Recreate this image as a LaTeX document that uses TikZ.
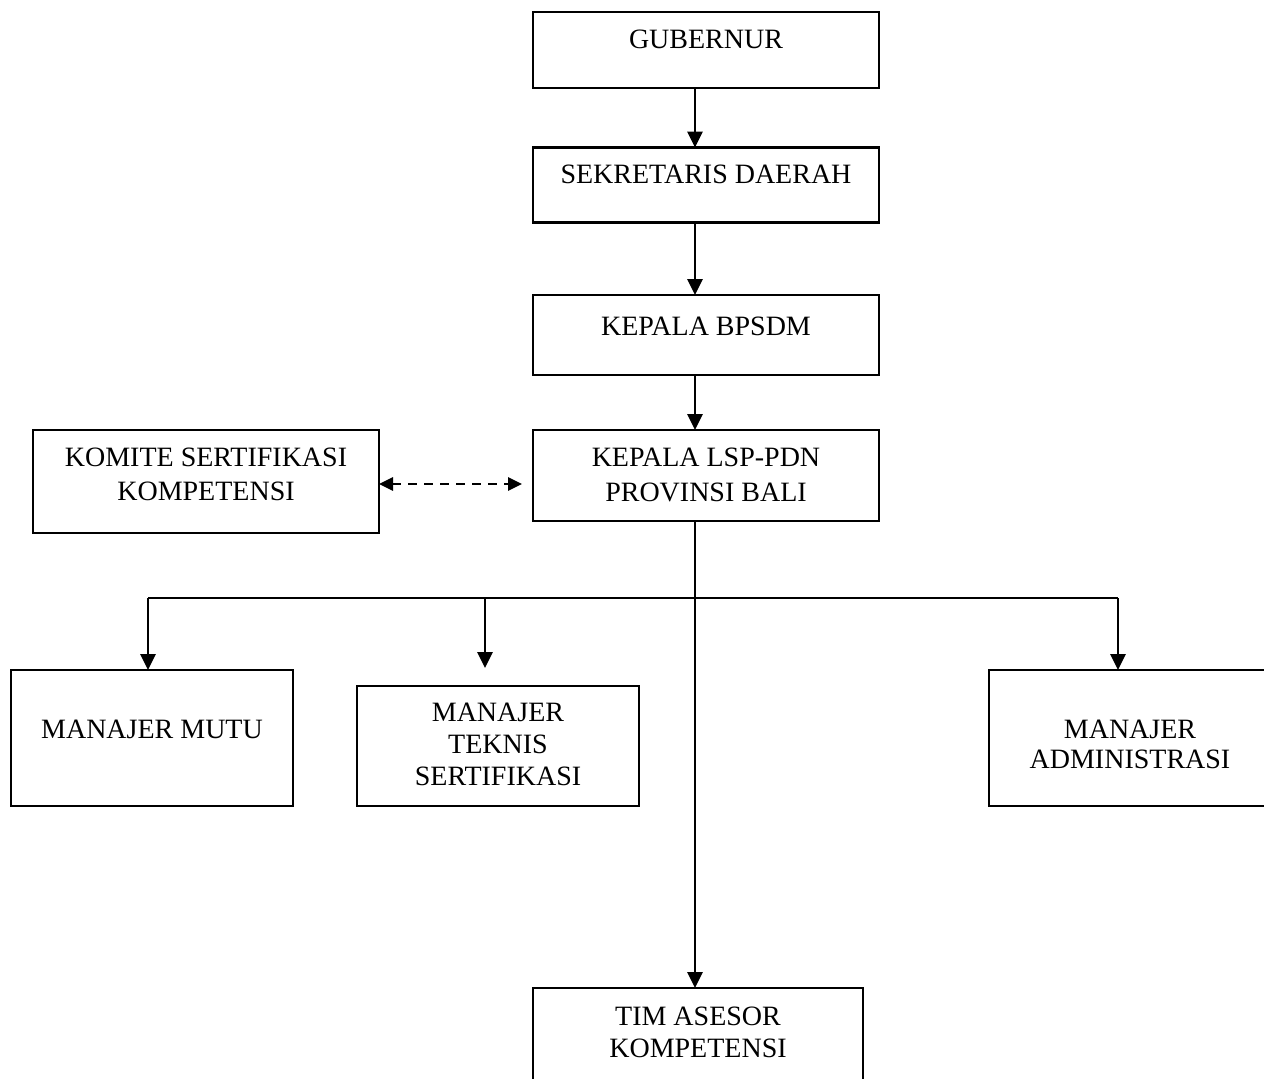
\documentclass[tikz,border=0pt]{standalone}
\usepackage{fontspec}
\setmainfont{Liberation Serif}
\usetikzlibrary{arrows.meta}
\begin{document}
\begin{tikzpicture}[x=0.5pt,y=-0.5pt,
  box/.style={draw, line width=1.4pt, inner sep=0pt, outer sep=0pt, rectangle},
  lbl/.style={anchor=north, inner sep=0pt, outer sep=0pt, align=center},
  conn/.style={line width=1.4pt},
  arr/.style={conn, -{Triangle[length=8pt,width=7.5pt]}},
  darr/.style={line width=1.4pt, dash pattern=on 4.5pt off 3.5pt,
    {Triangle[length=7pt,width=6.5pt]}-{Triangle[length=7pt,width=6.5pt]}}]
\useasboundingbox (0,0) rectangle (1264,1078);
\clip (0,0) rectangle (1264,1078);
\fill[white] (0,0) rectangle (1264,1078);
% boxes
\node[box, minimum width=173pt, minimum height=38pt] (gub) at (706,50) {};
\node[box, minimum width=173pt, minimum height=37.5pt] (sek) at (706,185) {};
\node[box, minimum width=173pt, minimum height=40pt] (bps) at (706,335) {};
\node[box, minimum width=173pt, minimum height=45.5pt] (lsp) at (706,475.5) {};
\node[box, minimum width=173pt, minimum height=51.5pt] (kom) at (206,481.5) {};
\node[box, minimum width=141pt, minimum height=68pt] (mutu) at (152,738) {};
\node[box, minimum width=141pt, minimum height=60pt] (tek) at (498,746) {};
\node[box, minimum width=141pt, minimum height=68pt] (adm) at (1130,738) {};
\node[box, minimum width=165pt, minimum height=56pt] (tim) at (698,1044) {};
% labels
\node[lbl, font=\fontsize{14}{17}\selectfont] (gubt) at (706,30) {GUBERNUR};
\node[lbl, font=\fontsize{14}{17}\selectfont] (sekt) at (706,165) {SEKRETARIS DAERAH};
\node[lbl, font=\fontsize{14}{17}\selectfont] (bpst) at (706,317) {KEPALA BPSDM};
\node[lbl, font=\fontsize{14}{17.5}\selectfont] (lspt) at (706,448) {KEPALA LSP-PDN\\PROVINSI BALI};
\node[lbl, font=\fontsize{14}{17}\selectfont] (komt) at (206,448) {KOMITE SERTIFIKASI\\KOMPETENSI};
\node[lbl, font=\fontsize{14}{17}\selectfont] (mutut) at (152,720) {MANAJER MUTU};
\node[lbl, font=\fontsize{14}{16}\selectfont] (tekt) at (498,703) {MANAJER\\TEKNIS\\SERTIFIKASI};
\node[lbl, font=\fontsize{14}{15}\selectfont] (admt) at (1130,720) {MANAJER\\ADMINISTRASI};
\node[lbl, font=\fontsize{14}{16}\selectfont] (timt) at (698,1007) {TIM ASESOR\\KOMPETENSI};
% helper coordinates
\coordinate (spine) at (695,0);
\coordinate (am) at (148,598);
\coordinate (at) at (485,598);
\coordinate (aa) at (1118,598);
\coordinate (tekend) at (485,668);
% connectors
\draw[arr] (gub.south -| spine) -- (sek.north -| spine);
\draw[arr] (sek.south -| spine) -- (bps.north -| spine);
\draw[arr] (bps.south -| spine) -- (lsp.north -| spine);
\draw[arr] (lsp.south -| spine) -- (tim.north -| spine);
\draw[conn] (am) -- (aa);
\draw[arr] (am) -- (am |- mutu.north);
\draw[arr] (at) -- (tekend);
\draw[arr] (aa) -- (aa |- adm.north);
\draw[darr, shorten >=5.5pt] (kom.east |- 0,484) -- (lsp.west |- 0,484);
\end{tikzpicture}
\end{document}
